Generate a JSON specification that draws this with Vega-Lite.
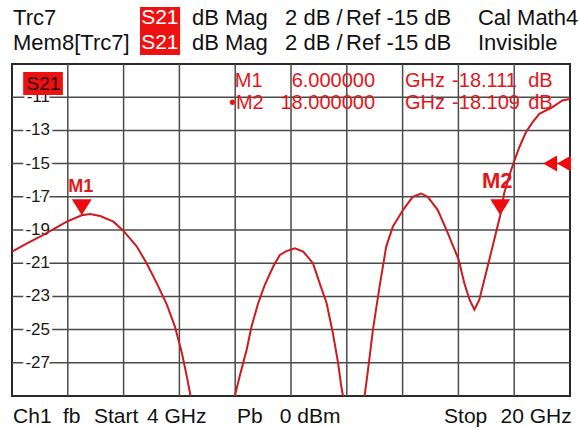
{
  "$schema": "https://vega.github.io/schema/vega-lite/v6.json",
  "width": 558,
  "height": 332,
  "autosize": {"type": "none"},
  "padding": {"left": 12, "top": 64, "right": 9, "bottom": 32},
  "background": "white",
  "config": {
    "view": {"stroke": "#2a2a2a", "strokeWidth": 2},
    "font": "Liberation Sans",
    "text": {"font": "Liberation Sans"}
  },
  "data": {"values": [{}]},
  "datasets": {
    "trace": [
      {"ghz": 4.00, "db": -20.31}, {"ghz": 4.43, "db": -19.80}, {"ghz": 4.90, "db": -19.30}, {"ghz": 5.57, "db": -18.50},
      {"ghz": 6.00, "db": -18.11}, {"ghz": 6.24, "db": -18.04}, {"ghz": 6.53, "db": -18.16}, {"ghz": 6.91, "db": -18.50},
      {"ghz": 7.19, "db": -19.04}, {"ghz": 7.58, "db": -20.0}, {"ghz": 7.86, "db": -21.0}, {"ghz": 8.15, "db": -22.2},
      {"ghz": 8.44, "db": -23.5}, {"ghz": 8.67, "db": -24.8}, {"ghz": 8.87, "db": -26.4}, {"ghz": 9.01, "db": -27.8},
      {"ghz": 9.12, "db": -29.0}, {"ghz": 9.25, "db": -31.0},
      {"ghz": 10.25, "db": -31.0}, {"ghz": 10.39, "db": -29.0}, {"ghz": 10.53, "db": -27.8}, {"ghz": 10.73, "db": -26.2},
      {"ghz": 10.87, "db": -24.8}, {"ghz": 11.06, "db": -23.4}, {"ghz": 11.25, "db": -22.3}, {"ghz": 11.49, "db": -21.2},
      {"ghz": 11.68, "db": -20.5}, {"ghz": 11.87, "db": -20.27}, {"ghz": 12.11, "db": -20.1}, {"ghz": 12.35, "db": -20.3},
      {"ghz": 12.63, "db": -21.0}, {"ghz": 12.82, "db": -22.2}, {"ghz": 13.02, "db": -23.4}, {"ghz": 13.20, "db": -25.2},
      {"ghz": 13.35, "db": -27.0}, {"ghz": 13.44, "db": -28.4}, {"ghz": 13.49, "db": -29.0}, {"ghz": 13.6, "db": -31.0},
      {"ghz": 14.0, "db": -31.0}, {"ghz": 14.11, "db": -29.0}, {"ghz": 14.21, "db": -27.4}, {"ghz": 14.35, "db": -25.0},
      {"ghz": 14.54, "db": -22.4}, {"ghz": 14.73, "db": -20.0}, {"ghz": 14.92, "db": -18.8}, {"ghz": 15.21, "db": -17.8},
      {"ghz": 15.49, "db": -17.0}, {"ghz": 15.73, "db": -16.8}, {"ghz": 15.92, "db": -17.0}, {"ghz": 16.21, "db": -17.8},
      {"ghz": 16.50, "db": -19.2}, {"ghz": 16.81, "db": -20.8}, {"ghz": 16.97, "db": -22.2}, {"ghz": 17.12, "db": -23.2},
      {"ghz": 17.26, "db": -23.8}, {"ghz": 17.40, "db": -23.2}, {"ghz": 17.59, "db": -21.6}, {"ghz": 17.78, "db": -20.0},
      {"ghz": 18.0, "db": -18.11}, {"ghz": 18.11, "db": -16.8}, {"ghz": 18.31, "db": -15.4}, {"ghz": 18.41, "db": -14.8},
      {"ghz": 18.55, "db": -14.0}, {"ghz": 18.74, "db": -13.1}, {"ghz": 18.93, "db": -12.5}, {"ghz": 19.12, "db": -12.0},
      {"ghz": 19.50, "db": -11.6}, {"ghz": 19.78, "db": -11.2}, {"ghz": 20.0, "db": -11.1}
    ],
    "markers": [
      {"name": "M1", "ghz": 6, "db": -18.111},
      {"name": "M2", "ghz": 18, "db": -18.109}
    ],
    "ticks": [
      {"v": -11, "label": "-11"}, {"v": -13, "label": "-13"}, {"v": -15, "label": "-15"},
      {"v": -17, "label": "-17"}, {"v": -19, "label": "-19"}, {"v": -21, "label": "-21"},
      {"v": -23, "label": "-23"}, {"v": -25, "label": "-25"}, {"v": -27, "label": "-27"}
    ],
    "vgrid": [
      {"g": 5.6}, {"g": 7.2}, {"g": 8.8}, {"g": 10.4}, {"g": 12}, {"g": 13.6}, {"g": 15.2}, {"g": 16.8}, {"g": 18.4}
    ],
    "hgrid": [
      {"g": -27}, {"g": -25}, {"g": -23}, {"g": -21}, {"g": -19}, {"g": -17}, {"g": -15}, {"g": -13}, {"g": -11}
    ]
  },
  "layer": [
    {
      "data": {"name": "vgrid"},
      "mark": {"type": "rule", "color": "#4a4a4a", "strokeWidth": 1.5},
      "encoding": {
        "x": {"field": "g", "type": "quantitative", "scale": {"domain": [4, 20], "nice": false, "zero": false}, "axis": null}
      }
    },
    {
      "data": {"name": "hgrid"},
      "mark": {"type": "rule", "color": "#4a4a4a", "strokeWidth": 1.5},
      "encoding": {
        "y": {"field": "g", "type": "quantitative", "scale": {"domain": [-29, -9], "nice": false, "zero": false}, "axis": null}
      }
    },
    {
      "data": {"name": "ticks"},
      "mark": {"type": "text", "align": "right", "baseline": "middle", "dx": 38, "fontSize": 17, "fill": "white", "stroke": "white", "strokeWidth": 6, "strokeJoin": "round"},
      "encoding": {
        "x": {"datum": 4, "axis": null},
        "y": {"field": "v", "type": "quantitative", "axis": null},
        "text": {"field": "label"}
      }
    },
    {
      "data": {"name": "ticks"},
      "mark": {"type": "text", "align": "right", "baseline": "middle", "dx": 38, "fontSize": 17, "color": "#1a1a1a"},
      "encoding": {
        "x": {"datum": 4, "axis": null},
        "y": {"field": "v", "type": "quantitative", "axis": null},
        "text": {"field": "label"}
      }
    },
    {
      "data": {"name": "trace"},
      "mark": {"type": "line", "color": "#cc1a1f", "strokeWidth": 2, "clip": true},
      "encoding": {
        "x": {"field": "ghz", "type": "quantitative", "axis": null},
        "y": {"field": "db", "type": "quantitative", "axis": null}
      }
    },
    {
      "data": {"name": "markers"},
      "mark": {"type": "point", "shape": "M0,0L-1,-1.6L1,-1.6Z", "size": 400, "filled": true, "opacity": 1, "color": "#ee0a0f", "strokeWidth": 0},
      "encoding": {
        "x": {"field": "ghz", "type": "quantitative", "axis": null},
        "y": {"field": "db", "type": "quantitative", "axis": null}
      }
    },
    {
      "data": {"name": "markers"},
      "transform": [{"filter": "datum.name === 'M1'"}],
      "mark": {"type": "text", "align": "center", "baseline": "middle", "fontSize": 18, "fontWeight": "bold", "dy": -28, "dx": -1, "color": "#e3161b"},
      "encoding": {
        "x": {"field": "ghz", "type": "quantitative", "axis": null},
        "y": {"field": "db", "type": "quantitative", "axis": null},
        "text": {"field": "name"}
      }
    },
    {
      "data": {"name": "markers"},
      "transform": [{"filter": "datum.name === 'M2'"}],
      "mark": {"type": "text", "align": "center", "baseline": "middle", "fontSize": 22, "fontWeight": "bold", "dy": -34, "dx": -3, "color": "#e3161b"},
      "encoding": {
        "x": {"field": "ghz", "type": "quantitative", "axis": null},
        "y": {"field": "db", "type": "quantitative", "axis": null},
        "text": {"field": "name"}
      }
    },
    {
      "mark": {"type": "point", "shape": "triangle-left", "size": 256, "filled": true, "opacity": 1, "color": "#ee0a0f", "strokeWidth": 0},
      "encoding": {"x": {"datum": 19.43, "axis": null}, "y": {"datum": -15, "axis": null}}
    },
    {
      "mark": {"type": "point", "shape": "triangle-left", "size": 256, "filled": true, "opacity": 1, "color": "#ee0a0f", "strokeWidth": 0},
      "encoding": {"x": {"datum": 19.83, "axis": null}, "y": {"datum": -15, "axis": null}}
    },
    {
      "mark": {"type": "rect", "color": "#ee1111"},
      "encoding": {"x": {"datum": 4.32, "axis": null}, "x2": {"datum": 5.46}, "y": {"datum": -9.48, "axis": null}, "y2": {"datum": -10.87}}
    },
    {
      "mark": {"type": "text", "text": "S21", "align": "center", "baseline": "middle", "fontSize": 19, "color": "#2a0000"},
      "encoding": {"x": {"datum": 4.9, "axis": null}, "y": {"datum": -10.2, "axis": null}}
    },
    {
      "mark": {"type": "text", "text": "M1", "align": "left", "baseline": "middle", "fontSize": 20, "color": "#e3161b"},
      "encoding": {"x": {"datum": 10.39, "axis": null}, "y": {"datum": -10.05, "axis": null}}
    },
    {
      "mark": {"type": "text", "text": "•M2", "align": "left", "baseline": "middle", "fontSize": 20, "color": "#e3161b"},
      "encoding": {"x": {"datum": 10.22, "axis": null}, "y": {"datum": -11.35, "axis": null}}
    },
    {
      "mark": {"type": "text", "text": ["6.000000", "18.000000"], "lineHeight": 21.5, "align": "right", "baseline": "middle", "fontSize": 20, "color": "#e3161b"},
      "encoding": {"x": {"datum": 14.41, "axis": null}, "y": {"datum": -10.05, "axis": null}}
    },
    {
      "mark": {"type": "text", "text": ["GHz", "GHz"], "lineHeight": 21.5, "align": "left", "baseline": "middle", "fontSize": 20, "color": "#e3161b"},
      "encoding": {"x": {"datum": 15.27, "axis": null}, "y": {"datum": -10.05, "axis": null}}
    },
    {
      "mark": {"type": "text", "text": ["-18.111", "-18.109"], "lineHeight": 21.5, "align": "left", "baseline": "middle", "fontSize": 20, "color": "#e3161b"},
      "encoding": {"x": {"datum": 16.62, "axis": null}, "y": {"datum": -10.05, "axis": null}}
    },
    {
      "mark": {"type": "text", "text": ["dB", "dB"], "lineHeight": 21.5, "align": "left", "baseline": "middle", "fontSize": 20, "color": "#e3161b"},
      "encoding": {"x": {"datum": 18.8, "axis": null}, "y": {"datum": -10.05, "axis": null}}
    },
    {
      "mark": {"type": "rect", "color": "#ee1111"},
      "encoding": {"x": {"datum": 7.67, "axis": null}, "x2": {"datum": 8.82}, "y": {"datum": -5.57, "axis": null}, "y2": {"datum": -8.46}}
    },
    {
      "mark": {"type": "text", "text": ["S21", "S21"], "lineHeight": 25.5, "align": "center", "baseline": "middle", "fontSize": 21, "color": "white"},
      "encoding": {"x": {"datum": 8.24, "axis": null}, "y": {"datum": -6.2, "axis": null}}
    },
    {
      "mark": {"type": "text", "text": ["Trc7", "Mem8[Trc7]"], "lineHeight": 25.5, "align": "left", "baseline": "middle", "fontSize": 22, "color": "#111111"},
      "encoding": {"x": {"datum": 4.03, "axis": null}, "y": {"datum": -6.2, "axis": null}}
    },
    {
      "mark": {"type": "text", "text": ["dB Mag", "dB Mag"], "lineHeight": 25.5, "align": "left", "baseline": "middle", "fontSize": 22, "color": "#111111"},
      "encoding": {"x": {"datum": 9.16, "axis": null}, "y": {"datum": -6.2, "axis": null}}
    },
    {
      "mark": {"type": "text", "text": ["2 dB /", "2 dB /"], "lineHeight": 25.5, "align": "left", "baseline": "middle", "fontSize": 22, "color": "#111111"},
      "encoding": {"x": {"datum": 11.83, "axis": null}, "y": {"datum": -6.2, "axis": null}}
    },
    {
      "mark": {"type": "text", "text": ["Ref -15 dB", "Ref -15 dB"], "lineHeight": 25.5, "align": "left", "baseline": "middle", "fontSize": 22, "color": "#111111"},
      "encoding": {"x": {"datum": 13.58, "axis": null}, "y": {"datum": -6.2, "axis": null}}
    },
    {
      "mark": {"type": "text", "text": ["Cal Math4", "Invisible"], "lineHeight": 25.5, "align": "left", "baseline": "middle", "fontSize": 22, "color": "#111111"},
      "encoding": {"x": {"datum": 17.36, "axis": null}, "y": {"datum": -6.2, "axis": null}}
    },
    {
      "mark": {"type": "text", "text": "Ch1", "align": "left", "baseline": "middle", "fontSize": 21, "color": "#111111"},
      "encoding": {"x": {"datum": 4.03, "axis": null}, "y": {"datum": -30.24, "axis": null}}
    },
    {
      "mark": {"type": "text", "text": "fb", "align": "left", "baseline": "middle", "fontSize": 21, "color": "#111111"},
      "encoding": {"x": {"datum": 5.46, "axis": null}, "y": {"datum": -30.24, "axis": null}}
    },
    {
      "mark": {"type": "text", "text": "Start", "align": "left", "baseline": "middle", "fontSize": 21, "color": "#111111"},
      "encoding": {"x": {"datum": 6.35, "axis": null}, "y": {"datum": -30.24, "axis": null}}
    },
    {
      "mark": {"type": "text", "text": "4 GHz", "align": "left", "baseline": "middle", "fontSize": 21, "color": "#111111"},
      "encoding": {"x": {"datum": 7.87, "axis": null}, "y": {"datum": -30.24, "axis": null}}
    },
    {
      "mark": {"type": "text", "text": "Pb", "align": "left", "baseline": "middle", "fontSize": 21, "color": "#111111"},
      "encoding": {"x": {"datum": 10.45, "axis": null}, "y": {"datum": -30.24, "axis": null}}
    },
    {
      "mark": {"type": "text", "text": "0 dBm", "align": "left", "baseline": "middle", "fontSize": 21, "color": "#111111"},
      "encoding": {"x": {"datum": 11.68, "axis": null}, "y": {"datum": -30.24, "axis": null}}
    },
    {
      "mark": {"type": "text", "text": "Stop", "align": "left", "baseline": "middle", "fontSize": 21, "color": "#111111"},
      "encoding": {"x": {"datum": 16.39, "axis": null}, "y": {"datum": -30.24, "axis": null}}
    },
    {
      "mark": {"type": "text", "text": "20 GHz", "align": "right", "baseline": "middle", "fontSize": 21, "color": "#111111"},
      "encoding": {"x": {"datum": 20.05, "axis": null}, "y": {"datum": -30.24, "axis": null}}
    }
  ]
}
